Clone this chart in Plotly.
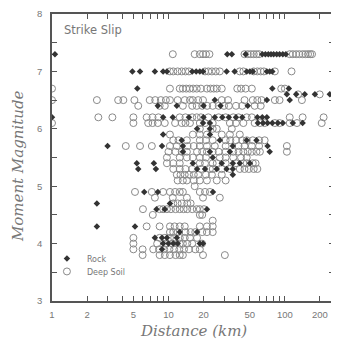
import math
import plotly.graph_objects as go

# ---- data (Distance in km, Moment Magnitude) ----
soil_mag = [7.3, 7.0, 6.7, 6.6, 6.5, 6.4, 6.2, 6.1, 6.0, 5.9, 5.8, 5.7, 5.6, 5.5, 5.4,
            5.3, 5.2, 5.1, 5.0, 4.9, 4.8, 4.7, 4.6, 4.5, 4.4, 4.3, 4.2, 4.1, 4.0, 3.9, 3.8]
soil_dist = [
    [10.9, 16.8, 18.6, 19.8, 21.0, 22.5, 45, 48, 51, 54, 57, 60, 110, 117, 125, 133, 142, 150, 158, 165, 171],
    [10.3, 11.0, 12.0, 13.0, 14.0, 15.0, 20.6, 22.0, 23.6, 25.5, 27.6, 41, 44, 54, 58, 62, 66, 82, 114],
    [1.0, 10.3, 12.5, 13.3, 14.2, 15.2, 16.3, 17.5, 19.0, 21.4, 23.0, 24.5, 26.0, 28.7, 39, 42, 46, 52, 93, 100],
    [130, 199],
    [1.0, 2.43, 3.7, 4.1, 5.1, 6.9, 7.7, 8.6, 9.5, 10.3, 12.0, 13.8, 15.3, 16.2, 18.0, 19.8, 28.7, 32.5, 45, 53, 58, 63, 82, 90, 140],
    [5.5, 8.4, 9.3, 13.3, 16.0, 17.5, 19.5, 21.5, 24, 27, 30, 33, 38, 43, 55, 62],
    [2.5, 3.3, 5.0, 6.5, 7.3, 8.2, 12.5, 14.0, 16.0, 17.5, 19.0, 22, 27, 31, 36, 40, 47, 52, 110, 142, 215],
    [1.0, 5.0, 6.7, 7.3, 8.1, 9.3, 11.4, 13.0, 14.0, 15.3, 18.6, 20.6, 24, 33.7, 38, 44, 55, 61, 67, 82, 90, 110, 127, 207],
    [18.6, 24, 26, 35],
    [10.3, 16.2, 18.6, 21.4, 28.7, 33.7, 41],
    [11.0, 12.2, 14.4, 18.6, 21.0, 24, 31, 34, 38, 43, 47, 53, 60, 67],
    [4.3, 5.7, 7.2, 10.3, 11.8, 14.6, 16.5, 18.6, 21.4, 25, 31, 40, 45, 52, 60, 104],
    [10.0, 11.5, 13.0, 14.4, 17.6, 19.5, 21.4, 24, 27, 31, 36, 40, 44, 48, 52, 57, 61, 104],
    [9.7, 12.5, 14.4, 16.2, 18.6, 21.0, 27.6, 31, 36, 42, 47],
    [9.7, 11.0, 12.5, 18.6, 20.6, 24, 26, 31, 38, 44, 47, 53, 56],
    [11.0, 12.5, 14.0, 16.0, 19.0, 22.7, 24, 28.7, 33.7, 41, 45, 49, 54, 58],
    [11.8, 12.7, 13.8, 15.0, 16.5, 18.0, 21.0, 23.6, 28.7],
    [12.0, 13.3, 14.4, 16.5, 18.6, 21.4, 26, 31],
    [16.8],
    [5.16, 7.2, 9.0, 10.3, 11.4, 12.5, 13.3, 18.6, 20.6, 22.7],
    [7.65, 10.9, 14.4, 19.8, 27.6],
    [11.0, 12.0, 13.0, 14.5, 15.5],
    [6.04, 8.4, 9.0, 9.7, 10.5, 11.5, 12.5, 13.5, 14.5, 16.0, 17.5, 18.6, 20.2],
    [7.34, 18.6, 19.5],
    [24],
    [6.5, 8.4, 10.3, 11.3, 12.5, 13.8, 18.6, 21.4, 24],
    [10.3, 11.0, 12.0, 14.0, 15.5, 17.0, 19.5, 21.4, 24],
    [5.0, 8.4, 9.3, 10.3, 11.2, 12.5, 13.8, 15.3, 17.6],
    [5.0, 8.0, 9.5, 10.8, 12.5, 13.3, 14.5, 16.0, 19.4],
    [5.0, 6.0, 7.4, 8.3, 9.2, 10.2, 11.2, 12.4, 13.6, 15.0, 17.0, 18.6],
    [6.0, 8.4, 9.3, 10.3, 11.5, 12.5, 13.3, 19.8, 30.5],
]

rock_mag = [7.3, 7.0, 6.7, 6.6, 6.5, 6.4, 6.2, 6.1, 6.0, 5.9, 5.8, 5.7, 5.6, 5.5, 5.4,
            5.3, 5.2, 4.9, 4.7, 4.6, 4.3, 4.2, 4.1, 4.0, 3.9]
rock_dist = [
    [1.06, 32, 35, 46, 64, 68, 72, 76, 80, 85, 90, 96, 102],
    [4.9, 5.7, 7.65, 9.0, 9.7, 16.0, 17.3, 18.6, 19.8, 31.6, 37, 47, 50, 53, 70, 74, 78],
    [5.4, 78, 108],
    [104, 125, 148, 181, 243],
    [25, 70, 110],
    [8.1, 11.8, 20, 28, 48],
    [1.0, 9.0, 10.9, 15, 20, 25, 29, 33, 38, 43, 58, 64, 70],
    [19.8, 22.7, 58.6, 65, 71, 78, 87, 96, 117, 142],
    [17.6, 22.7],
    [9.0, 22.7],
    [13.0, 27.6, 47, 57],
    [3.0, 8.8, 13.3, 35.7, 71],
    [13.3, 22.7, 33.7, 74],
    [24],
    [5.35, 7.5, 16.2, 28.7, 35.7, 41, 50],
    [5.5, 7.8, 17.6, 20.6, 26, 31.6, 35.7],
    [35.7],
    [6.2, 8.1, 24.1],
    [2.43, 10.3],
    [7.9, 9.3, 21.4],
    [2.43, 5.16],
    [12.5, 17.6],
    [7.65, 8.8, 9.7, 11.8],
    [9.0, 10.0, 11.0, 12.0, 18.6, 19.8],
    [8.8],
]

x_tick_vals = [1, 2, 3, 4, 5, 6, 7, 8, 9, 10, 20, 30, 40, 50, 60, 70, 80, 90, 100, 200]
x_tick_text = ["1", "2", "", "", "5", "", "", "", "", "10", "20", "", "", "50", "", "", "", "", "100", "200"]
y_tick_vals = [3, 3.5, 4, 4.5, 5, 5.5, 6, 6.5, 7, 7.5, 8]
y_tick_text = ["3", "", "4", "", "5", "", "6", "", "7", "", "8"]
x_max = 264


def flatten(mags, dists):
    xs, ys = [], []
    for m, row in zip(mags, dists):
        for d in row:
            xs.append(d)
            ys.append(m)
    return xs, ys


sx, sy = flatten(soil_mag, soil_dist)
rx, ry = flatten(rock_mag, rock_dist)

fig = go.Figure()
fig.add_trace(go.Scatter(
    x=sx, y=sy, mode="markers", name="Deep Soil", legend="legend2",
    marker=dict(symbol="circle-open", size=7, color="#8a8a8a", line=dict(width=1)),
))
fig.add_trace(go.Scatter(
    x=rx, y=ry, mode="markers", name="Rock", legend="legend",
    marker=dict(symbol="diamond", size=5, color="#333333"),
))

axis_common = dict(
    showgrid=False, zeroline=False, showline=True, mirror="ticks",
    linecolor="#555555", linewidth=1.5, ticks="inside", ticklen=5,
    tickcolor="#555555", tickwidth=1,
    tickfont=dict(family="Liberation Sans, Arial", size=9.5, color="#777777"),
)

fig.update_xaxes(type="log", range=[0, math.log10(x_max)],
                 tickmode="array", tickvals=x_tick_vals, ticktext=x_tick_text,
                 ticklabelstandoff=4, **axis_common)
fig.update_yaxes(range=[3, 8], tickmode="array", tickvals=y_tick_vals,
                 ticktext=y_tick_text, ticklabelstandoff=6, **axis_common)

legend_font = dict(family="DejaVu Sans", size=8, color="#777777")
# the page body adds an 8px offset, so the figure is sized/margined to compensate
fig.update_layout(
    width=339, height=335,
    margin=dict(l=44, r=13, t=6, b=42, autoexpand=False),
    paper_bgcolor="white", plot_bgcolor="white",
    showlegend=True,
    legend=dict(x=-0.018, y=0.148, xanchor="left", yanchor="middle",
                bgcolor="rgba(0,0,0,0)", font=legend_font),
    legend2=dict(x=-0.018, y=0.103, xanchor="left", yanchor="middle",
                 bgcolor="rgba(0,0,0,0)", font=legend_font),
    annotations=[
        dict(text="Strike Slip", xref="paper", yref="paper", x=0.035, y=0.945,
             xanchor="left", yanchor="middle", showarrow=False,
             font=dict(family="DejaVu Sans", size=11.5, color="#777777")),
        dict(text="300", xref="paper", yref="paper",
             x=math.log10(300) / math.log10(x_max), y=0, yshift=-14,
             xanchor="center", yanchor="middle", showarrow=False,
             font=dict(family="Liberation Sans, Arial", size=9.5, color="#777777")),
        dict(text="<i>Distance (km)</i>", xref="paper", yref="paper", x=0.5, y=0,
             yshift=-30, xanchor="center", yanchor="middle", showarrow=False,
             font=dict(family="DejaVu Serif", size=15, color="#777777")),
        dict(text="<i>Moment Magnitude</i>", xref="paper", yref="paper", x=0,
             xshift=-34, y=0.47, xanchor="center", yanchor="middle", textangle=-90,
             showarrow=False,
             font=dict(family="DejaVu Serif", size=15, color="#777777")),
    ],
)

fig.write_html("out.html")
